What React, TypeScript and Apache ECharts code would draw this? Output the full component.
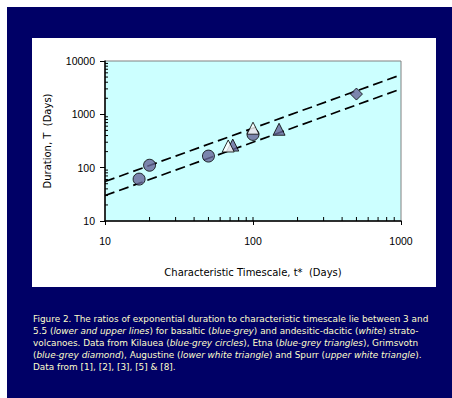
import React, { useEffect, useRef } from "react";
import * as echarts from "echarts";

// Kilauea (blue-grey circles)
const kilaueaT = [17, 20, 50, 100];
const kilaueaD = [61, 111, 165, 420];
// Etna (blue-grey triangles)
const etnaT = [73, 150];
const etnaD = [265, 525];
// Augustine (lower white triangle) & Spurr (upper white triangle)
const whiteT = [68, 100];
const whiteD = [255, 550];
// Grimsvotn (blue-grey diamond)
const grimT = [500];
const grimD = [2400];
// ratio lines T = r * t*
const lineT = [10, 1000];
const upperRatio = 5.5;
const lowerRatio = 3;

const xTicks = [10, 100, 1000];
const yTicks = [10, 100, 1000, 10000];
const xMinor = [20, 30, 40, 50, 60, 70, 80, 90, 200, 300, 400, 500, 600, 700, 800, 900];
const yMinor = [20, 30, 40, 50, 60, 70, 80, 90, 200, 300, 400, 500, 600, 700, 800, 900, 2000, 3000, 4000, 5000, 6000, 7000, 8000, 9000];

const captionLines = [
  "Figure 2. The ratios of exponential duration to characteristic timescale lie between 3 and",
  "5.5 ({i|lower and upper lines}) for basaltic ({i|blue-grey}) and andesitic-dacitic ({i|white}) strato-",
  "volcanoes. Data from Kilauea ({i|blue-grey circles}), Etna ({i|blue-grey triangles}), Grimsvotn",
  "({i|blue-grey diamond}), Augustine ({i|lower white triangle}) and Spurr ({i|upper white triangle}).",
  "Data from [1], [2], [3], [5] & [8].",
];

const NAVY = "#000066";
const GREY = "#666699";
const FONT = "DejaVu Sans";
const TEXTC = "#ffffcc";
const CAP = 8.9;

export default function App() {
  const ref = useRef<HTMLDivElement>(null);
  useEffect(() => {
    document.body.style.margin = "0";
    const chart = echarts.init(ref.current!, undefined, { renderer: "svg" });
    const pts = (xs: number[], ys: number[]) => xs.map((x, i) => [x, ys[i]]);
    const markerStyle = (fill: string) => ({ color: fill, borderColor: "#000", borderWidth: 1 });
    const dashed = { color: "#000", width: 1.7, type: [10, 5] as any };

    const option: any = {
      animation: false,
      backgroundColor: "#ffffff",
      graphic: [
        { type: "rect", z: -10, shape: { x: 7, y: 7, width: 445, height: 391 }, style: { fill: NAVY } },
        { type: "rect", z: -9, shape: { x: 32, y: 38, width: 404, height: 249 }, style: { fill: "#ffffff" } },
        ...captionLines.map((t, i) => ({
          type: "text",
          left: 33,
          top: 314 + i * 12,
          style: {
            text: t,
            fill: TEXTC,
            fontFamily: FONT,
            fontSize: CAP,
            rich: { i: { fontStyle: "italic", fill: TEXTC, fontFamily: FONT, fontSize: CAP } },
          },
        })),
      ],
      grid: {
        left: 105,
        top: 61,
        right: 51,
        bottom: 177,
        show: true,
        backgroundColor: "#ccffff",
        borderColor: "#808080",
        borderWidth: 1,
      },
      xAxis: {
        type: "log",
        logBase: 10,
        min: 10,
        max: 1000,
        name: "Characteristic Timescale, t*  (Days)",
        nameLocation: "middle",
        nameGap: 46,
        nameTextStyle: { fontFamily: FONT, fontSize: 10, color: "#000" },
        axisLine: { lineStyle: { color: "#000", width: 1.5 } },
        axisTick: { show: true, inside: false, length: 4, lineStyle: { color: "#000" } },
        axisLabel: {
          margin: 14,
          fontFamily: "Liberation Sans",
          fontSize: 10.5,
          color: "#000",
          customValues: xTicks,
          formatter: (v: number) => String(Math.round(v)),
        },
        splitLine: { show: false },
      },
      yAxis: {
        type: "log",
        logBase: 10,
        min: 10,
        max: 10000,
        name: "Duration, T  (Days)",
        nameLocation: "middle",
        nameGap: 53,
        nameTextStyle: { fontFamily: FONT, fontSize: 10, color: "#000" },
        axisLine: { show: true, lineStyle: { color: "#000", width: 1.5 } },
        axisTick: { show: true, inside: false, length: 5, lineStyle: { color: "#000" } },
        axisLabel: {
          margin: 10,
          fontFamily: "Liberation Sans",
          fontSize: 10.5,
          color: "#000",
          customValues: yTicks,
          formatter: (v: number) => String(Math.round(v)),
        },
        splitLine: { show: false },
      },
      series: [
        {
          type: "custom",
          silent: true,
          clip: false,
          data: [...xMinor, 100].map((v) => [v, 10]),
          renderItem: (params: any, api: any) => {
            const p = api.coord([api.value(0), api.value(1)]);
            return { type: "line", shape: { x1: p[0], y1: p[1], x2: p[0], y2: p[1] - 4 }, style: { stroke: "#000", lineWidth: 1 } };
          },
          z: 1,
        },
        {
          type: "custom",
          silent: true,
          clip: false,
          data: yMinor.map((v) => [10, v]),
          renderItem: (params: any, api: any) => {
            const p = api.coord([api.value(0), api.value(1)]);
            return { type: "line", shape: { x1: p[0], y1: p[1], x2: p[0] + 3, y2: p[1] }, style: { stroke: "#000", lineWidth: 1 } };
          },
          z: 1,
        },
        {
          type: "line",
          data: lineT.map((t) => [t, t * upperRatio]),
          symbol: "none",
          lineStyle: dashed,
          z: 2,
        },
        {
          type: "line",
          data: lineT.map((t) => [t, t * lowerRatio]),
          symbol: "none",
          lineStyle: dashed,
          z: 2,
        },
        {
          type: "scatter",
          data: pts(kilaueaT, kilaueaD),
          symbol: "circle",
          symbolSize: 12,
          itemStyle: markerStyle(GREY),
          z: 3,
        },
        {
          type: "scatter",
          data: pts(etnaT, etnaD),
          symbol: "triangle",
          symbolSize: 12,
          itemStyle: markerStyle(GREY),
          z: 4,
        },
        {
          type: "scatter",
          data: pts(whiteT, whiteD),
          symbol: "triangle",
          symbolSize: 12,
          itemStyle: markerStyle("#ffffff"),
          z: 5,
        },
        {
          type: "scatter",
          data: pts(grimT, grimD),
          symbol: "diamond",
          symbolSize: 12,
          itemStyle: markerStyle(GREY),
          z: 5,
        },
      ],
    };
    chart.setOption(option);
    return () => chart.dispose();
  }, []);
  return <div ref={ref} style={{ width: 452, height: 398 }} />;
}
